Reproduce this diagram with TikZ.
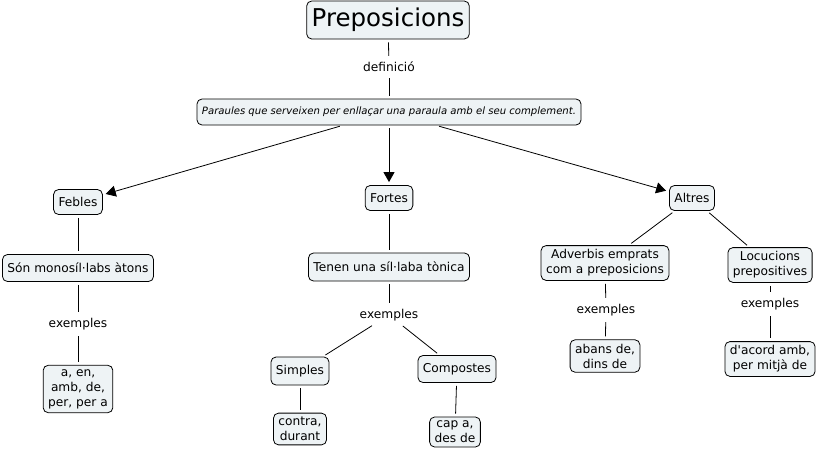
\documentclass[tikz,border=0pt]{standalone}
\usepackage{fontspec}
\setmainfont{DejaVu Sans}
\newfontfamily\mapfont{DejaVu Sans}
\usepackage{xcolor}
\usetikzlibrary{arrows.meta}
\definecolor{cmapfill}{RGB}{238,243,245}
\tikzset{concept/.style={draw,rounded corners=5pt,fill=cmapfill,line width=0.8pt,
                         inner xsep=5pt,inner ysep=4pt,align=center,
                         font=\mapfont\fontsize{12.2}{15}\selectfont,minimum height=25pt},
         linkphrase/.style={inner sep=3pt,font=\mapfont\fontsize{12.2}{15}\selectfont},
         link/.style={line width=0.8pt,shorten >=3pt,shorten <=3pt},
         tip/.style={link,-{Triangle[length=10pt,width=11pt]}},
         }
\begin{document}
\begin{tikzpicture}[x=1pt,y=-1pt]
\useasboundingbox (0,0) rectangle (821,453);
% top of the map
\node[concept,font=\mapfont\fontsize{24.5}{28}\selectfont,minimum height=38pt] (prep) at (388,20) {Preposicions};
\node[linkphrase] (defin) at (389,67) {definició};
\node[concept,font=\mapfont\fontsize{10.1}{12}\itshape\selectfont,minimum height=26pt] (parau) at (389,112)
    {Paraules que serveixen per enllaçar una paraula amb el seu complement.};
% three groups
\node[concept] (febles) at (78,202) {Febles};
\node[concept] (fortes) at (389,198) {Fortes};
\node[concept] (altres) at (692,198) {Altres};
% Febles
\node[concept,minimum height=27pt] (monos) at (78,268) {Són monosíl·labs àtons};
\node[linkphrase] (exfeb) at (78,324) {exemples};
\node[concept] (aen) at (78,389) {a, en,\\amb, de,\\per, per a};
% Fortes
\node[concept,minimum height=28pt] (tenen) at (389,267) {Tenen una síl·laba tònica};
\node[linkphrase] (exfor) at (389,315) {exemples};
\node[concept,minimum height=28pt] (simpl) at (300,371) {Simples};
\node[concept,minimum height=27pt] (compo) at (457,369) {Compostes};
\node[concept] (contr) at (300,429) {contra,\\durant};
\node[concept] (capa) at (455,432) {cap a,\\des de};
% Altres
\node[concept] (adver) at (605,263) {Adverbis emprats\\com a preposicions};
\node[concept] (locuc) at (770,265) {Locucions\\prepositives};
\node[linkphrase] (exadv) at (606,310) {exemples};
\node[linkphrase] (exloc) at (770,304) {exemples};
\node[concept] (abans) at (605,356) {abans de,\\dins de};
\node[concept] (acord) at (770,359) {d'acord amb,\\per mitjà de};
% connectors
\draw[link] (prep) -- (defin);
\draw[link] (defin) -- (parau);
\draw[tip] (parau) -- (febles);
\draw[tip] (parau) -- (fortes);
\draw[tip] (parau) -- (altres);
\draw[link] (febles) -- (monos);
\draw[link] (monos) -- (exfeb);
\draw[link] (exfeb) -- (aen);
\draw[link] (fortes) -- (tenen);
\draw[link] (tenen) -- (exfor);
\draw[link] (exfor) -- (simpl);
\draw[link] (exfor) -- (compo);
\draw[link] (simpl) -- (contr);
\draw[link] (compo) -- (capa);
\draw[link] (altres) -- (adver);
\draw[link] (altres) -- (locuc);
\draw[link] (adver) -- (exadv);
\draw[link] (exadv) -- (abans);
\draw[link] (locuc) -- (exloc);
\draw[link] (exloc) -- (acord);
\end{tikzpicture}
\end{document}
